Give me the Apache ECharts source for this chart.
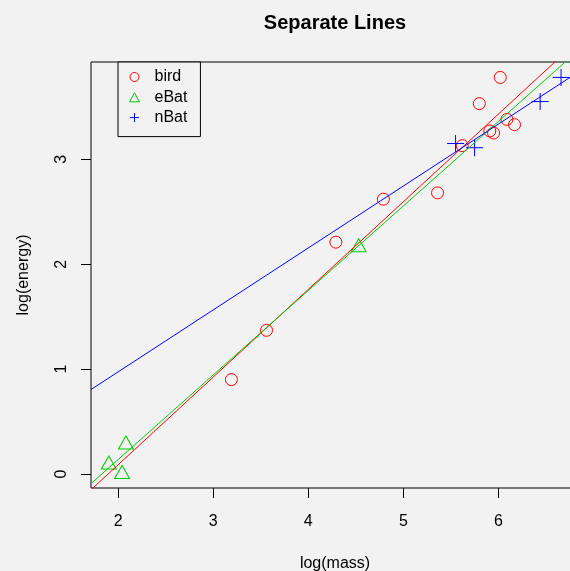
<!DOCTYPE html>
<html>
<head>
<meta charset="utf-8">
<style>
  html, body { margin: 0; padding: 0; background: #f2f2f2; }
  #chart { width: 570px; height: 571px; }
</style>
<script src="https://cdn.jsdelivr.net/npm/echarts@6/dist/echarts.min.js"></script>
</head>
<body>
<div id="chart"></div>
<script>
// log(mass) / log(energy) for each group
const birdX = [3.19, 3.56, 4.29, 4.79, 5.36, 5.62, 5.91, 5.95, 6.09, 6.02, 5.80, 6.17];
const birdY = [0.90, 1.37, 2.21, 2.62, 2.68, 3.13, 3.27, 3.25, 3.38, 3.78, 3.53, 3.33];
const eBatX = [4.53, 2.08, 1.90, 2.04];
const eBatY = [2.18, 0.30, 0.11, 0.02];
const nBatX = [6.66, 6.44, 5.55, 5.75];
const nBatY = [3.78, 3.55, 3.15, 3.11];

// separate fitted lines: intercept and slope per group
const groups = ['bird', 'eBat', 'nBat'];
const intercepts = [-1.58, -1.47, -0.205];
const slopes = [0.835, 0.805, 0.590];

const xTicks = [2, 3, 4, 5, 6];
const yTicks = [0, 1, 2, 3];

const X_MIN = 1.7126, X_MAX = 6.849;
const Y_MIN = -0.133, Y_MAX = 3.927;

const colors = ['#FF0000', '#00CD00', '#0000FF'];
const FONT = "'Liberation Sans', Arial, Helvetica, sans-serif";
const PLUS = 'path://M0,5L10,5M5,0L5,10';

function pairs(xs, ys) { return xs.map((x, i) => [x, ys[i]]); }

const pointSets = [pairs(birdX, birdY), pairs(eBatX, eBatY), pairs(nBatX, nBatY)];
const symbols = ['circle', 'triangle', PLUS];
const symbolSizes = [12, [15, 13], 17];

const series = [];
groups.forEach((g, i) => {
  series.push({
    name: g,
    type: 'scatter',
    data: pointSets[i],
    symbol: symbols[i],
    symbolSize: symbolSizes[i],
    itemStyle: {
      color: i === 2 ? colors[i] : 'transparent',
      borderColor: colors[i],
      borderWidth: 1,
      opacity: 1
    },
    emphasis: { disabled: true },
    silent: true,
    z: 2
  });
});
groups.forEach((g, i) => {
  series.push({
    name: g + ' fit',
    type: 'line',
    data: [[X_MIN, intercepts[i] + slopes[i] * X_MIN], [X_MAX, intercepts[i] + slopes[i] * X_MAX]],
    showSymbol: false,
    symbol: 'none',
    lineStyle: { color: colors[i], width: 1 },
    clip: true,
    silent: true,
    z: 3
  });
});

const chart = echarts.init(document.getElementById('chart'), null, { renderer: 'canvas' });
chart.setOption({
  backgroundColor: '#f2f2f2',
  animation: false,
  tooltip: { show: false },
  textStyle: { fontFamily: FONT },
  title: {
    text: 'Separate Lines',
    left: 330,
    textAlign: 'center',
    top: 8,
    textStyle: { fontFamily: FONT, fontWeight: 'bold', fontSize: 20, color: '#000' }
  },
  grid: {
    left: 91, top: 62, width: 488, height: 426,
    outerBoundsMode: 'none',
    containLabel: false,
    show: true, borderColor: '#000', borderWidth: 1, backgroundColor: 'transparent'
  },
  legend: {
    data: groups,
    orient: 'vertical',
    left: 118,
    top: 62,
    padding: [5, 13, 9, 11],
    itemWidth: 10,
    itemHeight: 9,
    itemGap: 0.3,
    itemStyle: { borderWidth: 1 },
    borderColor: '#000',
    borderWidth: 1,
    backgroundColor: '#f2f2f2',
    selectedMode: false,
    textStyle: { fontFamily: FONT, fontSize: 16, color: '#000', lineHeight: 20, padding: [0, 0, 0, 10] }
  },
  xAxis: {
    type: 'value',
    min: X_MIN, max: X_MAX,
    name: 'log(mass)',
    nameLocation: 'middle',
    nameGap: 68,
    nameTextStyle: { fontFamily: FONT, fontSize: 16, color: '#000' },
    axisLine: { show: false, onZero: false },
    splitLine: { show: false },
    axisTick: { show: true, inside: false, length: 10, customValues: xTicks, lineStyle: { color: '#000' } },
    axisLabel: { customValues: xTicks, margin: 26, fontFamily: FONT, fontSize: 16, color: '#000' }
  },
  yAxis: {
    type: 'value',
    min: Y_MIN, max: Y_MAX,
    name: 'log(energy)',
    nameLocation: 'middle',
    nameGap: 59,
    nameRotate: 90,
    nameTextStyle: { fontFamily: FONT, fontSize: 16, color: '#000' },
    axisLine: { show: false, onZero: false },
    splitLine: { show: false },
    axisTick: { show: true, inside: false, length: 10, customValues: yTicks, lineStyle: { color: '#000' } },
    axisLabel: { customValues: yTicks, rotate: 90, margin: 21, fontFamily: FONT, fontSize: 16, color: '#000' }
  },
  series: series
});
</script>
</body>
</html>
